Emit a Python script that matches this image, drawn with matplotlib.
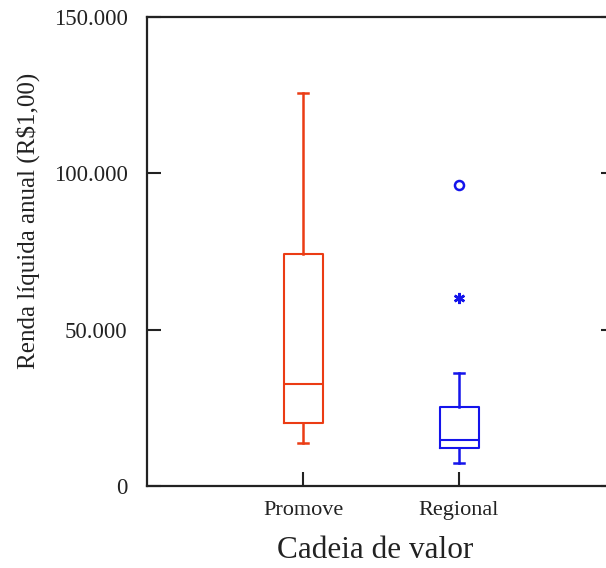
import matplotlib
matplotlib.use("Agg")
import matplotlib.pyplot as plt

plt.rcParams["font.family"] = ["Liberation Serif", "DejaVu Serif"]

# Values (R$ per year)
categories = ["Promove", "Regional"]
whisker_low = [13600, 7500]
q1 = [20200, 12300]
median = [32500, 14600]
q3 = [74200, 25300]
whisker_high = [125800, 36000]
outlier_circle = [None, 96300]
outlier_star = [None, 60000]
colours = ["#EB3C14", "#1414EB"]

yticks = [0, 50000, 100000, 150000]
ytick_labels = ["0", "50.000", "100.000", "150.000"]

fig = plt.figure(figsize=(6.06, 5.68), dpi=100)
ax = fig.add_axes([147 / 606, 82 / 568, 468 / 606, 469 / 568])

positions = [1, 2]
for i, pos in enumerate(positions):
    stats = [{"whislo": whisker_low[i], "q1": q1[i], "med": median[i],
              "q3": q3[i], "whishi": whisker_high[i], "fliers": []}]
    c = colours[i]
    ax.bxp(stats, positions=[pos], widths=0.25, showfliers=False,
           boxprops=dict(color=c, linewidth=1.5),
           medianprops=dict(color=c, linewidth=1.5),
           whiskerprops=dict(color=c, linewidth=1.8),
           capprops=dict(color=c, linewidth=1.8), capwidths=0.065)
    if outlier_circle[i] is not None:
        ax.plot(pos, outlier_circle[i], marker="o", markersize=6.5, mfc="none",
                mec=c, mew=1.8, linestyle="none")
    if outlier_star[i] is not None:
        ax.plot(pos, outlier_star[i], marker=(6, 2, 0), markersize=8,
                mec=c, mew=1.8, linestyle="none")

ax.set_xlim(0, 3)
ax.set_ylim(0, 150000)
ax.set_xticks(positions)
ax.set_xticklabels(categories, fontsize=16)
ax.set_yticks(yticks)
ax.set_yticklabels(ytick_labels, fontsize=16.5)

for side in ["left", "bottom", "top", "right"]:
    ax.spines[side].set_linewidth(1.6)
    ax.spines[side].set_color("#222222")

ax.tick_params(axis="y", direction="in", length=10, width=1.5, color="#222222",
               right=True, pad=14, labelcolor="#222222")
ax.tick_params(axis="x", direction="in", length=10, width=1.5, color="#222222",
               pad=11, labelcolor="#222222")

fig.text(28 / 606, 1 - 221 / 568, "Renda líquida anual (R$1,00)", rotation=90,
         ha="center", va="center", fontsize=18, color="#222222")
fig.text(375 / 606, 1 - 551 / 568, "Cadeia de valor", ha="center", va="center",
         fontsize=22.5, color="#222222")

fig.savefig("out.png", dpi=100)
